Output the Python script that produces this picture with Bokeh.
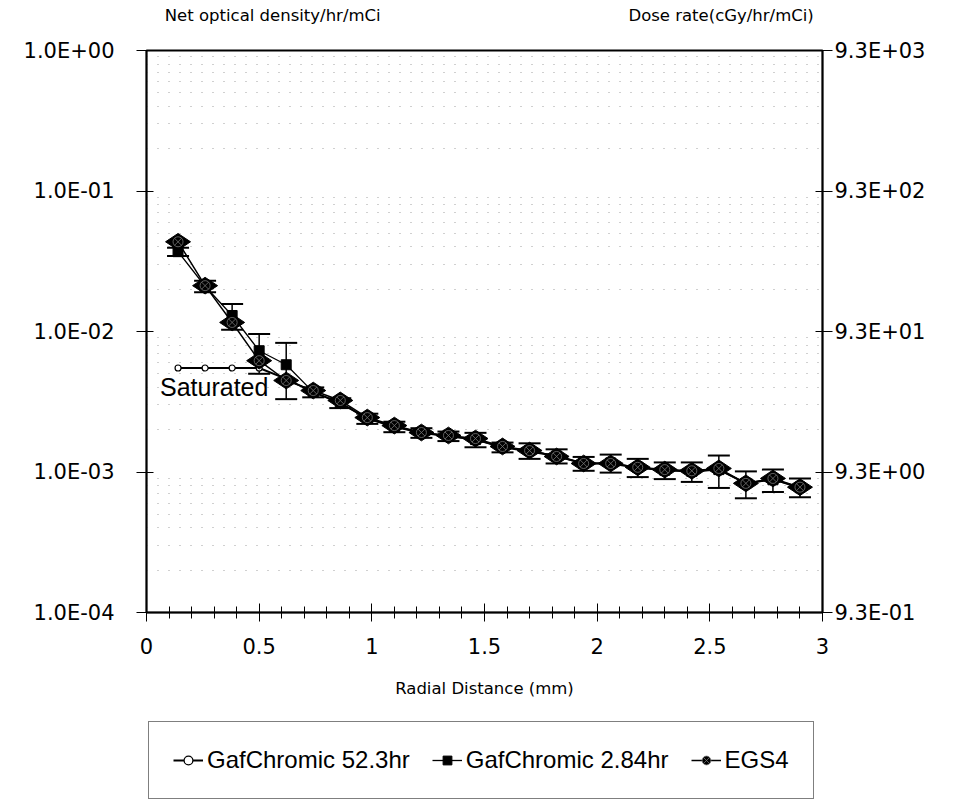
from bokeh.plotting import figure
from bokeh.models import (LogAxis, Range1d, FixedTicker, SingleIntervalTicker, CustomJSTickFormatter,
                          Label, Legend, LegendItem, ColumnDataSource, Whisker, TeeHead)
from bokeh.layouts import column
from bokeh.core.properties import value
from bokeh.embed import file_html
from bokeh.resources import INLINE
import math

# ---------------- data ----------------
radial_mm = [0.14, 0.26, 0.38, 0.50, 0.62, 0.74, 0.86, 0.98, 1.10, 1.22, 1.34, 1.46,
             1.58, 1.70, 1.82, 1.94, 2.06, 2.18, 2.30, 2.42, 2.54, 2.66, 2.78, 2.90]

egs4 = [0.0435, 0.0212, 0.0116, 0.0062, 0.00448, 0.0038, 0.00323, 0.00244, 0.00214, 0.00191,
        0.00182, 0.00173, 0.00152, 0.00142, 0.00129, 0.00115, 0.00115, 0.00108, 0.00104,
        0.00102, 0.00106, 0.00083, 0.00090, 0.00078]

gaf_284 = [0.037, 0.021, 0.013, 0.0073, 0.0058, 0.0037, 0.0031, 0.0024, 0.0021, 0.0019,
           0.0018, 0.0017, 0.0015, 0.00142, 0.0013, 0.00115, 0.00116, 0.00108, 0.00103,
           0.00101, 0.00104, 0.00083, 0.00088, 0.00078]
gaf_284_err = [0.0025, 0.002, 0.0027, 0.0023, 0.0025, 0.0003, 0.00025, 0.0002, 0.00018, 0.00015,
               0.00014, 0.0002, 0.00012, 0.00018, 0.00015, 0.00013, 0.00017, 0.00016, 0.00014,
               0.00016, 0.00027, 0.00018, 0.00016, 0.00012]

gaf_523 = [0.0055, 0.0055, 0.0055, 0.0055, 0.0046, 0.0037, 0.0031, 0.0024, 0.0021, 0.0019,
           0.0018, 0.0017, 0.0015, 0.0014, 0.0013, 0.00115, 0.00115, 0.00107, 0.00103,
           0.00101, 0.00104, 0.00083, 0.00089, 0.00077]

left_ticks = [1e-4, 1e-3, 1e-2, 1e-1, 1.0]
right_ticks = [0.93, 9.3, 93.0, 930.0, 9300.0]
minor_y = [m * 10.0 ** e for e in range(-4, 0) for m in range(2, 10)]

series_names = ["GafChromic 52.3hr", "GafChromic 2.84hr", "EGS4"]
top_titles = ["Net optical density/hr/mCi", "Dose rate(cGy/hr/mCi)"]
x_title = "Radial Distance (mm)"
note_text = "Saturated"

TICK_FONT = "DejaVu Sans"
W = 941
BORDERS = dict(min_border_left=146, min_border_right=119)


def blank(fig):
    fig.axis.visible = False
    fig.grid.grid_line_color = None
    fig.outline_line_color = None


# ---------------- header with the two axis titles (frame aligned with main plot) ----------------
head = figure(width=W, height=30, output_backend="svg", toolbar_location=None,
              x_range=Range1d(0, 3), y_range=Range1d(0, 30),
              min_border_top=0, min_border_bottom=0, **BORDERS)
blank(head)
head.text(x=[0.56, 2.55], y=[15, 15], text=top_titles, text_align="center",
          text_baseline="middle", text_font=value(TICK_FONT), text_font_size="16.5px",
          text_color="black")

# ---------------- main figure ----------------
p = figure(width=W, height=680, output_backend="svg", toolbar_location=None,
           x_range=Range1d(0, 3), y_range=Range1d(1e-4, 1.0), y_axis_type="log",
           min_border_top=20, min_border_bottom=98, **BORDERS)
p.background_fill_color = "white"
p.border_fill_color = "white"
p.outline_line_color = "black"
p.outline_line_width = 2

p.extra_y_ranges = {"dose": Range1d(0.93, 9300.0)}

fmt = CustomJSTickFormatter(code="""
const e = Math.floor(Math.log10(tick) + 1e-9);
const m = tick / Math.pow(10, e);
const s = e < 0 ? "-" : "+";
const a = Math.abs(e);
return m.toFixed(1) + "E" + s + (a < 10 ? "0" + a : "" + a);
""")

ya = p.yaxis[0]
ya.ticker = FixedTicker(ticks=left_ticks, minor_ticks=minor_y)
ya.formatter = fmt
ya.minor_tick_line_color = None
ya.major_tick_in = 7
ya.major_tick_out = 10
ya.major_label_standoff = 22
ya.major_label_text_font = TICK_FONT
ya.major_label_text_font_size = "21px"
ya.major_label_text_color = "black"
ya.axis_line_width = 1.5

ra = LogAxis(y_range_name="dose", ticker=FixedTicker(ticks=right_ticks), formatter=fmt)
ra.minor_tick_line_color = None
ra.major_tick_in = 7
ra.major_tick_out = 10
ra.major_label_standoff = 2
ra.major_label_text_font = TICK_FONT
ra.major_label_text_font_size = "21px"
ra.major_label_text_color = "black"
ra.axis_line_width = 1.5
p.add_layout(ra, "right")

xa = p.xaxis[0]
xa.ticker = SingleIntervalTicker(interval=0.5, num_minor_ticks=5)
xa.major_tick_in = 9
xa.major_tick_out = 9
xa.minor_tick_in = 6
xa.minor_tick_out = 6
xa.major_label_standoff = 16
xa.major_label_text_font = TICK_FONT
xa.major_label_text_font_size = "21px"
xa.major_label_text_color = "black"
xa.axis_label = x_title
xa.axis_label_text_font = TICK_FONT
xa.axis_label_text_font_style = "normal"
xa.axis_label_text_font_size = "16.5px"
xa.axis_label_text_color = "black"
xa.axis_label_standoff = 22
xa.axis_line_width = 1.5

p.xgrid.grid_line_color = None
p.ygrid.grid_line_color = None
p.ygrid.minor_grid_line_color = "#555555"
p.ygrid.minor_grid_line_alpha = 0.55
p.ygrid.minor_grid_line_dash = "1 10"
p.ygrid.minor_grid_line_width = 1.2

src = ColumnDataSource(dict(x=radial_mm, egs=egs4, g284=gaf_284, g523=gaf_523,
                            lo=[v - e for v, e in zip(gaf_284, gaf_284_err)],
                            hi=[v + e for v, e in zip(gaf_284, gaf_284_err)]))

w = Whisker(base="x", upper="hi", lower="lo", source=src, line_color="black", line_width=1.5,
            upper_head=TeeHead(size=22, line_color="black", line_width=2),
            lower_head=TeeHead(size=22, line_color="black", line_width=2))
p.add_layout(w)

STY = {
    "g523_line": dict(line_color="black", line_width=2),
    "g523_mark": dict(marker="circle", size=6, fill_color="white", line_color="black", line_width=1.2),
    "g284_line": dict(line_color="black", line_width=1.3),
    "g284_mark": dict(marker="square", size=10, fill_color="black", line_color="black"),
    "egs_line": dict(line_color="black", line_width=1.5),
    "egs_mark": dict(marker="diamond", size=25, angle=math.pi / 2, fill_color="black",
                     line_color="black"),
    "egs_mark2": dict(marker="circle_x", size=10, fill_color="black", line_color="#777777",
                      line_width=0.8),
}

p.line("x", "g523", source=src, **STY["g523_line"])
p.scatter("x", "g523", source=src, **STY["g523_mark"])
p.line("x", "g284", source=src, **STY["g284_line"])
p.scatter("x", "g284", source=src, **STY["g284_mark"])
p.line("x", "egs", source=src, **STY["egs_line"])
p.scatter("x", "egs", source=src, **STY["egs_mark"])
p.scatter("x", "egs", source=src, **STY["egs_mark2"])

p.add_layout(Label(x=0.06, y=0.0040, text=note_text, text_align="left",
                   text_baseline="middle", text_font="Liberation Sans", text_font_size="25px",
                   text_color="black"))

# ---------------- footer holding the legend ----------------
foot = figure(width=W, height=90, output_backend="svg", toolbar_location=None,
              x_range=Range1d(10, 11), y_range=Range1d(0, 1),
              min_border_top=0, min_border_bottom=0, **BORDERS)
blank(foot)
# same series drawn outside this strip's visible range: only their legend glyphs show
r1 = [foot.line("x", "g523", source=src, **STY["g523_line"]),
      foot.scatter("x", "g523", source=src, **STY["g523_mark"])]
r2 = [foot.line("x", "g284", source=src, **STY["g284_line"]),
      foot.scatter("x", "g284", source=src, **STY["g284_mark"])]
r3 = [foot.line("x", "egs", source=src, **STY["egs_line"]),
      foot.scatter("x", "egs", source=src, **STY["egs_mark"]),
      foot.scatter("x", "egs", source=src, **STY["egs_mark2"])]

legend = Legend(items=[LegendItem(label=series_names[0], renderers=r1),
                       LegendItem(label=series_names[1], renderers=r2),
                       LegendItem(label=series_names[2], renderers=r3)],
                orientation="horizontal", location=(2, 1))
legend.border_line_color = "black"
legend.border_line_width = 1.5
legend.background_fill_color = "white"
legend.background_fill_alpha = 1.0
legend.label_text_font = "Liberation Sans"
legend.label_text_font_size = "24px"
legend.label_text_color = "black"
legend.glyph_width = 30
legend.glyph_height = 22
legend.label_standoff = 4
legend.spacing = 22
legend.padding = 24
legend.margin = 0
foot.add_layout(legend, "center")

layout = column(head, p, foot, spacing=0)
open("out.html", "w").write(file_html(layout, INLINE))
